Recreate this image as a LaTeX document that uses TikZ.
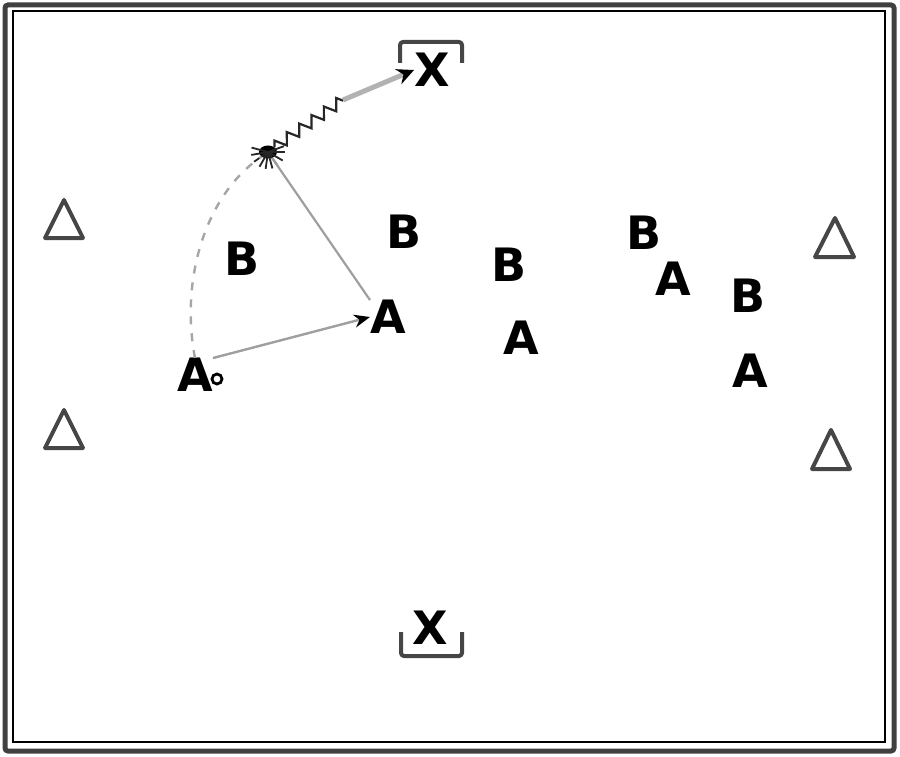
\documentclass[tikz,border=0pt]{standalone}
\usepackage{fontspec}
\setmainfont{DejaVu Sans}
\usetikzlibrary{decorations.pathmorphing,arrows.meta,shapes.geometric}
\begin{document}
\begin{tikzpicture}[x=1pt,y=-1pt,
  letter/.style={font=\fontsize{46}{46}\selectfont\bfseries, inner sep=0pt},
  cone/.style={draw=gray!55!black, line width=4pt, line join=round},
  goal/.style={draw=gray!55!black, line width=4pt, line join=round, rounded corners=3pt},
  pass/.style={draw=gray!75, line width=2.4pt, -{Stealth[length=16pt,width=13pt,color=black]}},
  run/.style={draw=gray!70, line width=2.4pt, dash pattern=on 8pt off 9pt},
  dribble/.style={draw=gray!30!black, line width=2.2pt, decorate,
     decoration={zigzag, amplitude=5.5pt, segment length=15pt}},
  shot/.style={draw=gray!60, line width=5pt, -{Stealth[length=17pt,width=16pt,color=black]}},
]
\useasboundingbox (0,0) rectangle (900,757);
\draw[gray!50!black, line width=5pt, rounded corners=3pt] (5,5) rectangle (894,751);
\draw[black, line width=1.2pt] (13,11) rectangle (885,742);

% cones
\draw[cone] (45,238) -- (64,200) -- (83,238) -- cycle;
\draw[cone] (45,448) -- (64,410) -- (83,448) -- cycle;
\draw[cone] (815,257) -- (835,218) -- (854,257) -- cycle;
\draw[cone] (812,469) -- (831,430) -- (850,469) -- cycle;

% goals
\draw[goal] (400,63) -- (400,42) -- (462,42) -- (462,63);
\draw[goal] (401,632) -- (401,656) -- (462,656) -- (462,632);
\node[letter] (Xtop) at (432,70) {X};
\node[letter] (Xbot) at (430,628) {X};

% players
\node[letter] (B1) at (242,259) {B};
\node[letter] (B2) at (404,232) {B};
\node[letter] (B3) at (509,265) {B};
\node[letter] (B4) at (644,233) {B};
\node[letter] (B5) at (748,296) {B};
\node[letter] (A1) at (195,375) {A};
\node[letter] (A2) at (388,317) {A};
\node[letter] (A3) at (521,338) {A};
\node[letter] (A4) at (673,279) {A};
\node[letter] (A5) at (750,371) {A};
\node[circle, draw=black, line width=2.8pt, minimum size=10pt, inner sep=0pt] (ball) at (217,379) {};

% star (receiving point)
\node[ellipse, fill=black, minimum width=18pt, minimum height=13pt, inner sep=0pt] (star) at (268,152) {};
\foreach \a in {165,190,215,240,262,285,305,330,0,20}{
  \draw[gray!30!black, line width=1.8pt] (star.center) -- ++(\a:17pt);
}

% movements
\draw[pass] (A1.north east) -- (A2.west);
\draw[draw=gray!75, line width=2.2pt] (star) -- (A2.north west);
\draw[run] (A1.north) .. controls (180,280) and (205,195) .. (star.south west);
\coordinate (mid) at (343,100);
\draw[dribble] (star.north east) -- (mid);
\draw[shot] (mid) -- (Xtop.west);
\end{tikzpicture}
\end{document}
